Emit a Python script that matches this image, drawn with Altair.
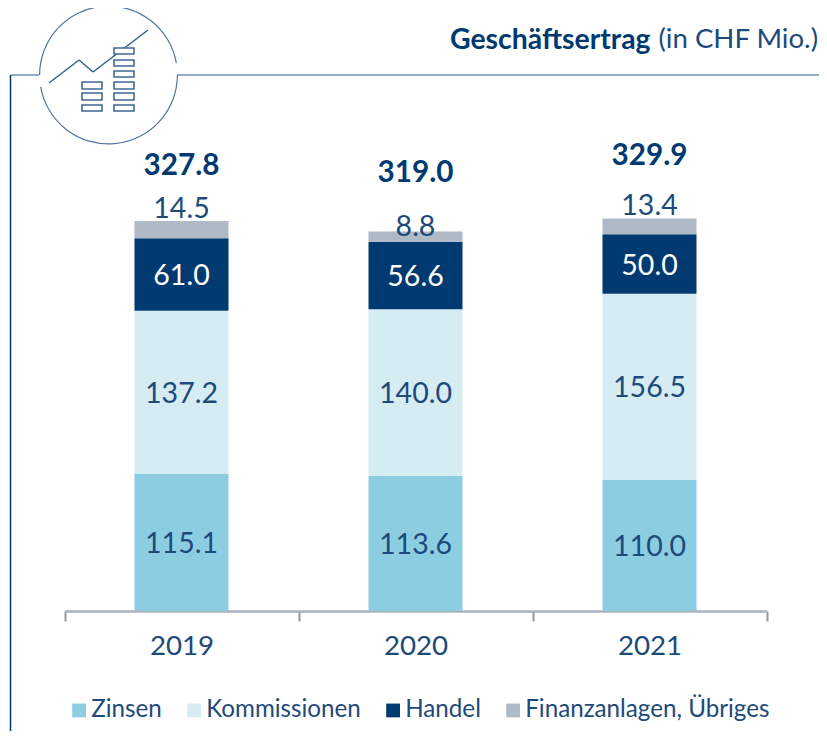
import altair as alt
import pandas as pd
import math

years = ["2019", "2020", "2021"]
series = ["Zinsen", "Kommissionen", "Handel", "Finanzanlagen, Übriges"]
zinsen = [115.1, 113.6, 110.0]
kommissionen = [137.2, 140.0, 156.5]
handel = [61.0, 56.6, 50.0]
finanz = [14.5, 8.8, 13.4]
totals = ["327.8", "319.0", "329.9"]
colors = ["#8ccde2", "#d5ecf3", "#003a70", "#b0bac6"]
NAVY = "#003a70"
TXT = "#1d4a7a"
FONT = "Lato"

rows = []
for i, y in enumerate(years):
    base = 0.0
    for s, vals in zip(series, [zinsen, kommissionen, handel, finanz]):
        v = vals[i]
        rows.append(dict(year=y, series=s, v=v, y0=base, y1=base + v, mid=base + v / 2, label=f"{v:.1f}"))
        base += v
df = pd.DataFrame(rows)


def px(v):
    return v - 8


W = 811
H = 723
X0 = px(64.5)
X1 = px(766.5)
BASE = px(611)
PXU = 1.19

xscale = alt.Scale(domain=years, range=[X0, X1], paddingInner=0, paddingOuter=0)
yscale = alt.Scale(domain=[0, 500], range=[BASE, BASE - 500 * PXU])
xenc = alt.X("year:N", scale=xscale, title=None,
             axis=alt.Axis(labelAngle=0, labelFontSize=27.7, labelColor=TXT, labelFont=FONT,
                           labelPadding=11, tickBand="extent", tickSize=10, tickWidth=2,
                           tickColor="#8f97a5", domainColor="#aab1bd", domainWidth=2.5,
                           grid=False))
yenc = alt.Y("y1:Q", scale=yscale, axis=None)

bars = alt.Chart(df).mark_bar(width=94).encode(
    x=xenc, y=yenc, y2="y0:Q",
    color=alt.Color("series:N", scale=alt.Scale(domain=series, range=colors), sort=series,
                    legend=alt.Legend(title=None, orient="none", legendX=59, legendY=690,
                                      direction="horizontal", columns=4, symbolType="square",
                                      symbolSize=190, symbolStrokeWidth=0, symbolOpacity=1,
                                      labelFontSize=24.2, labelColor=TXT, labelFont=FONT,
                                      labelOffset=0, columnPadding=20, labelLimit=300)),
)

inner = alt.Chart(df[df.series != series[3]]).mark_text(fontSize=28.5, font=FONT, dy=1.5).encode(
    x=alt.X("year:N", scale=xscale),
    y=alt.Y("mid:Q", scale=yscale),
    text="label:N",
    color=alt.condition(alt.datum.series == "Handel", alt.value("#ffffff"), alt.value(TXT)),
)

layers = [bars, inner]
grey_dy = [-12, -4, -12]
total_dy = [-55, -58, -62]
for i, y in enumerate(years):
    d = df[(df.year == y) & (df.series == series[3])].copy()
    d["total"] = totals[i]
    layers.append(alt.Chart(d).mark_text(fontSize=28.5, font=FONT, color=TXT, dy=grey_dy[i]).encode(
        x=alt.X("year:N", scale=xscale), y=alt.Y("y1:Q", scale=yscale), text="label:N"))
    layers.append(alt.Chart(d).mark_text(fontSize=29.7, font=FONT, color=NAVY, fontWeight="bold", dy=total_dy[i]).encode(
        x=alt.X("year:N", scale=xscale), y=alt.Y("y1:Q", scale=yscale), text="total:N"))

one = alt.Data(values=[{"a": 1}])


def seg(x, x2, y, y2, color, w):
    return alt.Chart(one).mark_rule(color=color, strokeWidth=w).encode(
        x=alt.value(px(x)), x2=alt.value(px(x2)), y=alt.value(px(y)), y2=alt.value(px(y2)))


def box(x, x2, y, y2):
    return alt.Chart(one).mark_rect(fill="#ffffff", stroke="#3f6a96", strokeWidth=1.6).encode(
        x=alt.value(px(x)), x2=alt.value(px(x2)), y=alt.value(px(y)), y2=alt.value(px(y2)))


def arc(a, b):
    return alt.Chart(one).mark_arc(innerRadius=68.3, outerRadius=69.5, color="#4f769f").encode(
        x=alt.value(px(108.5)), y=alt.value(px(75)),
        theta=alt.value(math.radians(a)), theta2=alt.value(math.radians(b)))


deco = [
    seg(11, 39, 75, 75, "#6f8fb0", 1.5),
    seg(177, 827, 75, 75, "#6f8fb0", 1.5),
    seg(10.5, 10.5, 75, 739, NAVY, 1.5),
    arc(90, 260), arc(270, 440),
    seg(49, 79, 83, 60, "#2f5f90", 1.5),
    seg(79, 93, 60, 72, "#2f5f90", 1.5),
    seg(93, 148, 72, 30, "#2f5f90", 1.5),
]
for yy in [(82, 89), (93, 100), (105, 111)]:
    deco.append(box(82, 102, *yy))
for yy in [(48, 54), (60, 66), (71, 77), (82, 89), (93, 100), (105, 111)]:
    deco.append(box(114, 134, *yy))

title = [
    alt.Chart(one).mark_text(text="Geschäftsertrag", font=FONT, fontSize=28.4, fontWeight="bold", color=NAVY, align="left").encode(
        x=alt.value(px(450)), y=alt.value(px(40))),
    alt.Chart(one).mark_text(text="(in CHF Mio.)", font=FONT, fontSize=27.6, color=TXT, align="right").encode(
        x=alt.value(px(818)), y=alt.value(px(40))),
]

chart = alt.layer(*layers, *deco, *title).properties(
    width=W, height=BASE,
    padding={"left": 0, "top": 0, "right": 0, "bottom": H - BASE},
    autosize=alt.AutoSizeParams(type="none"),
).configure_view(stroke=None).configure_axis(labelFontWeight="normal")

chart.save("out.html", embed_options={"renderer": "svg", "actions": False})
